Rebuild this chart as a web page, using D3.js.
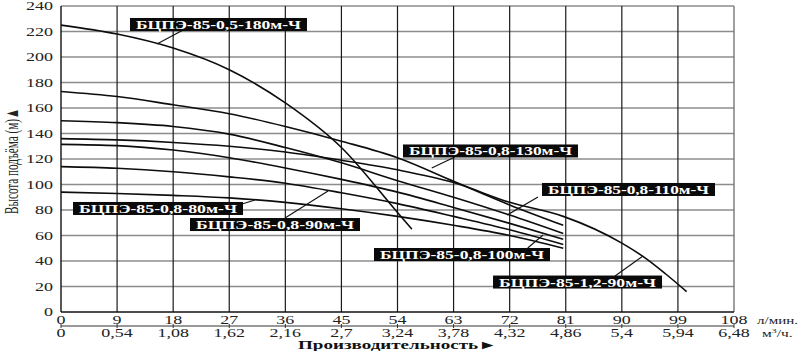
<!DOCTYPE html>
<html>
<head>
<meta charset="utf-8">
<script src="https://cdn.jsdelivr.net/npm/d3@7"></script>
<style>
  body { margin: 0; background: #fff; }
  text { font-family: "Liberation Serif", "Times New Roman", serif; }
</style>
</head>
<body>
<div id="chart"></div>
<script>
// flow ticks, l/min and m3/h
const lpmTicks = [0, 9, 18, 27, 36, 45, 54, 63, 72, 81, 90, 99, 108];
const m3Ticks = ["0", "0,54", "1,08", "1,62", "2,16", "2,7", "3,24", "3,78", "4,32", "4,86", "5,4", "5,94", "6,48"];
const headTicks = [0, 20, 40, 60, 80, 100, 120, 140, 160, 180, 200, 220, 240];

// pump curves (flow l/min -> head m)
const q180 = [0, 9, 18, 27, 36, 45, 54, 56.3];
const h180 = [225, 218, 207, 190, 164, 129, 78, 65];

const q08 = [0, 9, 18, 27, 36, 45, 54, 63, 72, 80.6];
const h130 = [173, 169, 162.5, 155.5, 145.5, 134, 121, 102.5, 84, 68];
const h110 = [150, 148.5, 145.5, 139.5, 129, 117, 103, 90, 76, 61.5];
const h100 = [131.5, 130.5, 127, 121, 113, 104, 94, 82, 69.5, 57];
const h90 = [114, 112.7, 110, 106, 101, 93.5, 85, 75, 64.5, 53];
const h80 = [94, 93, 91.5, 89.5, 86, 81, 75, 68, 60, 50];

const q12 = [0, 9, 18, 27, 36, 45, 54, 63, 72, 80.6, 90, 94, 97, 100.4];
const h12 = [136, 135, 133, 130, 125.5, 119, 111.5, 101.5, 86, 75, 54, 41.5, 30, 16];

const names = ["БЦПЭ-85-0,5-180м-Ч", "БЦПЭ-85-0,8-130м-Ч", "БЦПЭ-85-0,8-110м-Ч", "БЦПЭ-85-0,8-100м-Ч",
               "БЦПЭ-85-0,8-90м-Ч", "БЦПЭ-85-0,8-80м-Ч", "БЦПЭ-85-1,2-90м-Ч"];

const curves = [
  [q180, h180], [q08, h130], [q08, h110], [q08, h100], [q08, h90], [q08, h80], [q12, h12]
];

const width = 800, height = 351,
      margin = ({top: 6, right: 66, bottom: 39, left: 61});

const svg = d3.select("#chart").append("svg")
    .attr("width", width).attr("height", height)
    .attr("viewBox", [0, 0, width, height]);

const x = d3.scaleLinear().domain([0, 108]).range([margin.left, width - margin.right]);
const y = d3.scaleLinear().domain([0, 240]).range([height - margin.bottom, margin.top]);

const sx = 1.5; // picture is stretched sideways

// horizontal grid (grey)
svg.append("g").selectAll("line")
  .data(headTicks.filter(d => d > 0))
  .join("line")
    .attr("x1", x(0)).attr("x2", x(108))
    .attr("y1", d => y(d)).attr("y2", d => y(d))
    .attr("stroke", "#8c8c8c").attr("stroke-width", 1.4);

// vertical grid (dark)
svg.append("g").selectAll("line")
  .data(lpmTicks.filter(d => d > 0 && d < 108))
  .join("line")
    .attr("x1", d => x(d)).attr("x2", d => x(d))
    .attr("y1", y(0)).attr("y2", y(240))
    .attr("stroke", "#1a1a1a").attr("stroke-width", 1.2);

svg.append("line") // right border
    .attr("x1", x(108)).attr("x2", x(108)).attr("y1", y(0)).attr("y2", y(240))
    .attr("stroke", "#777").attr("stroke-width", 1.4);
svg.append("line") // left axis
    .attr("x1", x(0)).attr("x2", x(0)).attr("y1", y(0)).attr("y2", y(240))
    .attr("stroke", "#111").attr("stroke-width", 1.4);
svg.append("line") // bottom axis
    .attr("x1", x(0)).attr("x2", x(108)).attr("y1", y(0)).attr("y2", y(0))
    .attr("stroke", "#111").attr("stroke-width", 1.4);

// y tick labels
svg.append("g").selectAll("text")
  .data(headTicks)
  .join("text")
    .attr("transform", d => `translate(${x(0) - 8},${y(d) + 4}) scale(${sx},1)`)
    .attr("text-anchor", "end")
    .style("font-size", "12px")
    .style("fill", "#222")
    .text(d => d);

// y title
svg.append("text")
    .attr("transform", `translate(18,${(y(0) + y(240)) / 2 + 2}) rotate(-90) scale(1,1.5)`)
    .attr("text-anchor", "middle")
    .attr("textLength", 106)
    .attr("lengthAdjust", "spacingAndGlyphs")
    .style("font-size", "13px")
    .style("fill", "#222")
    .text("Высота подъёма (м)▲");

// double x axis
const axisY = y(0) + 14;
svg.append("line")
    .attr("x1", x(0)).attr("x2", x(108)).attr("y1", axisY).attr("y2", axisY)
    .attr("stroke", "#333").attr("stroke-width", 1);

svg.append("g").selectAll("line")
  .data(lpmTicks)
  .join("line")
    .attr("x1", d => x(d)).attr("x2", d => x(d))
    .attr("y1", axisY - 2).attr("y2", axisY + 2)
    .attr("stroke", "#333");

svg.append("g").selectAll("text")
  .data(lpmTicks)
  .join("text")
    .attr("transform", d => `translate(${x(d)},${axisY - 2}) scale(${sx},1)`)
    .attr("text-anchor", "middle")
    .style("font-size", "12px").style("fill", "#222")
    .text(d => d);

svg.append("g").selectAll("text")
  .data(m3Ticks)
  .join("text")
    .attr("transform", (d, i) => `translate(${x(lpmTicks[i])},${axisY + 11}) scale(${sx},1)`)
    .attr("text-anchor", "middle")
    .style("font-size", "12px").style("fill", "#222")
    .text(d => d);

// units at the right end
svg.append("text")
    .attr("x", x(108) + 23).attr("y", axisY - 2)
    .attr("textLength", 41)
    .attr("lengthAdjust", "spacingAndGlyphs")
    .style("font-size", "11px").style("fill", "#222")
    .text("л/мин.");
svg.append("text")
    .attr("transform", `translate(${x(108) + 28},${axisY + 11}) scale(1.4,1)`)
    .style("font-size", "11px").style("fill", "#222")
    .html("м<tspan dy='-4' style='font-size:7px'>3</tspan><tspan dy='4'>/ч.</tspan>");

svg.append("text")
    .attr("x", 298).attr("y", axisY + 23)
    .attr("textLength", 199)
    .attr("lengthAdjust", "spacingAndGlyphs")
    .style("font-size", "12.5px").style("font-weight", "bold").style("fill", "#111")
    .text("Производительность►");

// curves
const line = d3.line()
    .x(d => x(d[0]))
    .y(d => y(d[1]))
    .curve(d3.curveMonotoneX);

svg.append("g").selectAll("path")
  .data(curves.map(c => c[0].map((q, i) => [q, c[1][i]])))
  .join("path")
    .attr("d", line)
    .attr("fill", "none")
    .attr("stroke", "#0d0d0d")
    .attr("stroke-width", 1.6);

// labels: box left/centre in data units, pointer from -> tip
const labels = [
  {name: names[0], bx: 11.07, by: 225.5, w: 177, from: [19.6, 221.2], tip: [15.4, 210.2]},
  {name: names[1], bx: 54.88, by: 126.3, w: 175, from: [63.2, 121.6], tip: [59.5, 112.9]},
  {name: names[2], bx: 77.19, by: 96.1, w: 173, from: [76.55, 90.2], tip: [71.6, 76.1]},
  {name: names[3], bx: 50.23, by: 45.1, w: 176, from: [74.9, 50.2], tip: [77.35, 60.4]},
  {name: names[4], bx: 20.7, by: 68.6, w: 170, from: [35.95, 73.7], tip: [42.85, 94.9]},
  {name: names[5], bx: 1.93, by: 81.2, w: 170, from: [29.05, 84.7], tip: [31.13, 87.8]},
  {name: names[6], bx: 69.33, by: 23.5, w: 169, from: [88.9, 28.2], tip: [93.4, 43.9]}
];

const lab = svg.append("g").selectAll("g")
  .data(labels)
  .join("g");

lab.append("line")
    .attr("x1", d => x(d.from[0])).attr("y1", d => y(d.from[1]))
    .attr("x2", d => x(d.tip[0])).attr("y2", d => y(d.tip[1]))
    .attr("stroke", "#111").attr("stroke-width", 1.1);

lab.append("rect")
    .attr("x", d => x(d.bx))
    .attr("y", d => y(d.by) - 6.5)
    .attr("width", d => d.w)
    .attr("height", 13)
    .attr("fill", "#0a0a0a");

lab.append("text")
    .attr("x", d => x(d.bx) + 6)
    .attr("y", d => y(d.by) + 4.5)
    .attr("textLength", d => d.w - 12)
    .attr("lengthAdjust", "spacingAndGlyphs")
    .style("font-size", "12px")
    .style("font-weight", "bold")
    .style("fill", "#fff")
    .text(d => d.name);
</script>
</body>
</html>
